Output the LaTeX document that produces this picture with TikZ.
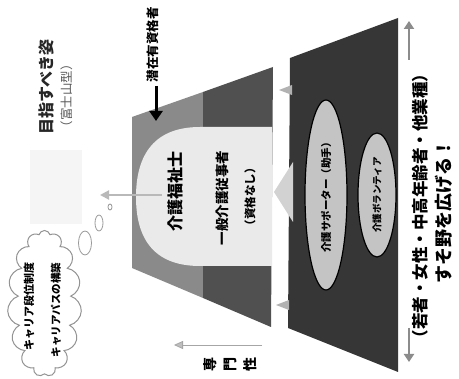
\documentclass[tikz,border=0pt]{standalone}
\usepackage{fontspec}
\setmainfont{Noto Sans CJK JP}
\usetikzlibrary{arrows.meta,shapes.symbols,shapes.geometric}
\definecolor{basedark}{HTML}{363636}
\definecolor{midgray}{HTML}{8A8A8A}
\definecolor{darkgray}{HTML}{505050}
\definecolor{domefill}{HTML}{EAEAEA}
\definecolor{ellfill}{HTML}{C4C4C4}
\definecolor{arrgray}{HTML}{8C8C8C}
\tikzset{
  jt/.style={rotate=90, inner sep=0pt, text=black},
  fs/.style={font=\bfseries\fontsize{#1}{#1}\selectfont},
  bubble/.style={ellipse, draw=gray!80, line width=0.8pt, fill=white, inner sep=0pt},
}
\begin{document}
\begin{tikzpicture}[x=1pt,y=-1pt]
\useasboundingbox (0,0) rectangle (459,379);
\fill[white] (0,0) rectangle (459,379);

% faint patch above the cloud
\fill[gray!8] (30,150) rectangle (82,224);

% base layer
\fill[basedark] (290,58) -- (398,18) -- (398,372) -- (288,328) -- cycle;
% upper layers
\fill[midgray] (132,117) -- (203,92) -- (203,298) -- (132,268) -- cycle;
\fill[darkgray] (203,92) -- (273,67) -- (271,327) -- (203,298) -- cycle;
% dome
\fill[domefill] (272,127) -- (200,127) .. controls (150,127) and (136,160) .. (136,197)
  .. controls (136,234) and (150,266) .. (200,266) -- (272,266) -- cycle;

% light chevron between layers
\fill[gray!35] (274,192) -- (293,162) -- (293,222) -- cycle;
% small arrowheads on base edge
\fill[gray!60] (279,90) -- (292,85) -- (292,95) -- cycle;
\fill[gray!60] (276,305) -- (289,300) -- (289,310) -- cycle;

% ellipses
\node[ellipse, draw, line width=1.2pt, fill=ellfill, minimum width=42pt, minimum height=190pt, inner sep=0pt] (ellA) at (326,195) {};
\node[ellipse, draw, line width=1.2pt, fill=ellfill, minimum width=38pt, minimum height=124pt, inner sep=0pt] (ellB) at (377,195) {};
\node[jt, fs=10.5] (tA) at (ellA) {介護サポーター（助手）};
\node[jt, fs=9.5] (tB) at (ellB) {介護ボランティア};

% dome texts
\node[jt, fs=16] (kf) at (175,192) {介護福祉士};
\node[jt, fs=13.5] (ip) at (222,198) {一般介護従事者};
\node[jt, fs=11.5] (sk) at (250,197) {（資格なし）};

% top label and arrow
\node[jt, fs=12.5] (sz) at (153,45) {潜在有資格者};
\coordinate (sz0) at (156,86);
\coordinate (sz1) at (156,121);
\draw[line width=3pt, -{Triangle[length=10pt,width=13pt]}] (sz0) -- (sz1);

% title
\node[jt, fs=16, text=black!85] (title) at (46,87) {目指すべき姿};
\node[jt, font=\fontsize{12.5}{12.5}\selectfont, text=black!65] (fuji) at (67,96) {（富士山型）};

% arrow from dome to cloud
\coordinate (da0) at (162,195);
\coordinate (da1) at (100,195);
\draw[gray!55, line width=2pt, -{Triangle[length=9pt,width=9pt]}] (da0) -- (da1);

% thought bubbles
\node[bubble, minimum width=13pt, minimum height=24pt] (b1) at (85,243) {};
\node[bubble, minimum width=8pt, minimum height=16pt] (b2) at (99,223) {};
\node[bubble, minimum width=4pt, minimum height=6pt] (b3) at (110,207) {};

% cloud
\node[cloud, cloud puffs=15, cloud ignores aspect, draw=gray!85, line width=1pt, fill=white,
      minimum width=74pt, minimum height=146pt, inner sep=0pt] (cl) at (44.5,303.5) {};
\node[jt, fs=11] (c1) at (29,307) {キャリア段位制度};
\node[jt, fs=10.5] (c2) at (56,310) {キャリアパスの構築};

% right side
\node[jt, fs=16.5] (wk) at (420,206) {（若者・女性・中高年齢者・他業種）};
\node[jt, fs=18] (sn) at (444,212) {すそ野を広げる！};
\coordinate (ra0) at (409,60);
\coordinate (ra1) at (409,21);
\coordinate (rb0) at (409,328);
\coordinate (rb1) at (409,362);
\draw[arrgray, line width=2.5pt, -{Triangle[length=8pt,width=10pt]}] (ra0) -- (ra1);
\draw[arrgray, line width=2.5pt, -{Triangle[length=8pt,width=10pt]}] (rb0) -- (rb1);

% senmonsei axis
\coordinate (sa0) at (262,345);
\coordinate (sa1) at (174,345);
\draw[gray!70, line width=0.8pt, -{Triangle[length=9pt,width=8pt,fill=gray!50]}] (sa0) -- (sa1);
\node[jt, font=\bfseries\fontsize{14}{20}\selectfont, align=center] (smn) at (230,365) {専\\門\\性};
\end{tikzpicture}
\end{document}
